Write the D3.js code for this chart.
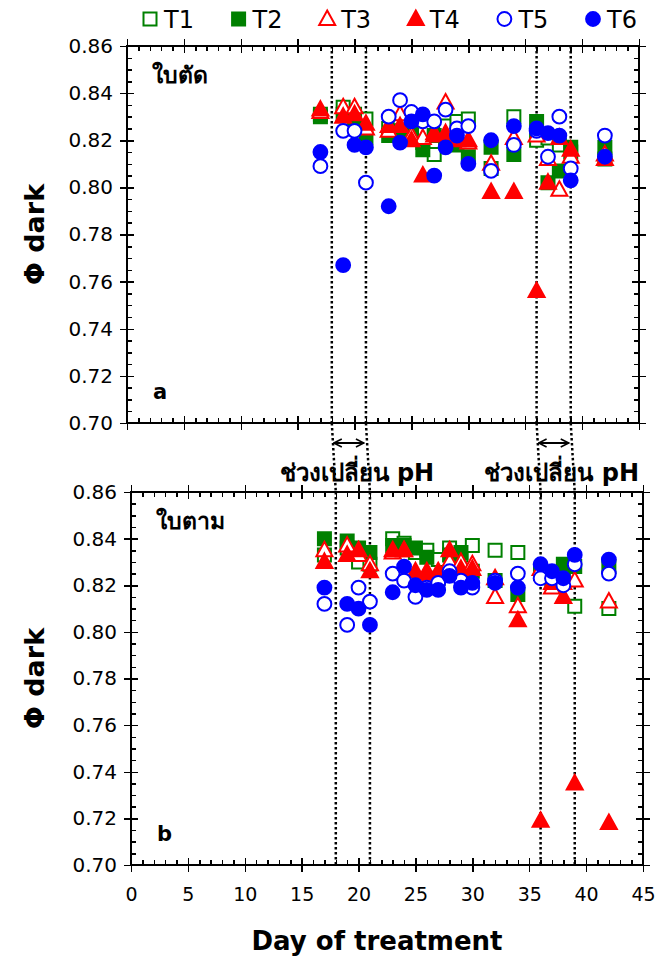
<!DOCTYPE html>
<html>
<head>
<meta charset="utf-8">
<script src="https://cdn.jsdelivr.net/npm/d3@7"></script>
<style>
body { margin: 0; background: #fff; }
text { font-family: "DejaVu Sans", sans-serif; fill: #000; }
.axis path { display: none; }
.axis line { stroke: #000; stroke-width: 1.5; shape-rendering: crispEdges; }
</style>
</head>
<body>
<script>
var days = [17, 19, 20, 21, 23, 24, 25, 26, 27, 28, 29, 30, 32, 34, 36, 37, 38, 39, 42];
var seriesNames = ["T1", "T2", "T3", "T4", "T5", "T6"];
var xTicks = [0, 5, 10, 15, 20, 25, 30, 35, 40, 45];
var yTicks = [0.70, 0.72, 0.74, 0.76, 0.78, 0.80, 0.82, 0.84, 0.86];
var phDays = [[18, 21], [36, 39]];

// panel a (ใบตัด)
var T1a = [0.831, 0.834, 0.831, 0.829, 0.825, 0.828, 0.823, 0.819, 0.814, 0.826, 0.828, 0.829, 0.808, 0.830, 0.820, 0.821, 0.818, 0.815, 0.812];
var T2a = [0.830, 0.831, 0.829, 0.821, 0.822, 0.824, 0.823, 0.816, 0.822, 0.820, 0.818, 0.813, 0.817, 0.814, 0.828, 0.802, 0.807, 0.817, 0.817];
var T3a = [0.832, 0.834, 0.834, 0.825, 0.824, 0.831, 0.822, 0.821, 0.823, 0.836, 0.821, 0.819, 0.810, 0.821, 0.822, 0.812, 0.799, 0.813, 0.814];
var T4a = [0.833, 0.830, 0.831, 0.827, 0.826, 0.826, 0.820, 0.805, 0.822, 0.823, 0.820, 0.820, 0.798, 0.798, 0.756, 0.802, 0.821, 0.816, 0.812];
var T5a = [0.809, 0.824, 0.824, 0.802, 0.830, 0.837, 0.832, 0.828, 0.828, 0.833, 0.825, 0.826, 0.807, 0.818, 0.824, 0.813, 0.830, 0.808, 0.822];
var T6a = [0.815, 0.767, 0.818, 0.817, 0.792, 0.819, 0.828, 0.831, 0.805, 0.817, 0.822, 0.810, 0.820, 0.826, 0.825, 0.823, 0.822, 0.803, 0.813];

// panel b (ใบตาม)
var T1b = [0.833, 0.836, 0.830, 0.829, 0.840, 0.838, 0.834, 0.835, 0.831, 0.836, 0.833, 0.837, 0.835, 0.834, 0.825, 0.823, 0.826, 0.811, 0.810];
var T2b = [0.840, 0.839, 0.836, 0.834, 0.837, 0.837, 0.836, 0.832, 0.823, 0.833, 0.834, 0.826, 0.822, 0.816, 0.826, 0.822, 0.829, 0.828, 0.828];
var T3b = [0.835, 0.837, 0.833, 0.829, 0.834, 0.835, 0.824, 0.826, 0.826, 0.830, 0.830, 0.829, 0.815, 0.811, 0.827, 0.819, 0.821, 0.822, 0.813];
var T4b = [0.830, 0.833, 0.835, 0.826, 0.835, 0.835, 0.826, 0.825, 0.825, 0.835, 0.827, 0.827, 0.823, 0.805, 0.719, 0.821, 0.815, 0.735, 0.718];
var T5b = [0.812, 0.803, 0.819, 0.813, 0.825, 0.822, 0.815, 0.819, 0.821, 0.826, 0.822, 0.819, 0.822, 0.825, 0.823, 0.823, 0.820, 0.829, 0.825];
var T6b = [0.819, 0.812, 0.810, 0.803, 0.817, 0.828, 0.820, 0.818, 0.818, 0.824, 0.819, 0.821, 0.821, 0.819, 0.829, 0.826, 0.823, 0.833, 0.831];

var styles = {
  T1: {shape: "square", fill: "#fff", stroke: "#008000"},
  T2: {shape: "square", fill: "#008000", stroke: "#008000"},
  T3: {shape: "triangle", fill: "#fff", stroke: "#ff0000"},
  T4: {shape: "triangle", fill: "#ff0000", stroke: "#ff0000"},
  T5: {shape: "circle", fill: "#fff", stroke: "#0000ff"},
  T6: {shape: "circle", fill: "#0000ff", stroke: "#0000ff"}
};

var svg = d3.select("body").append("svg")
    .attr("width", 659)
    .attr("height", 960);

function symbolPath(shape) {
  if (shape == "square") return "M-6.5,-6.5H6.5V6.5H-6.5Z";
  if (shape == "triangle") return "M0,-8.5L8,6L-8,6Z";
  return d3.symbol(d3.symbolCircle, 150)();
}

function drawPanel(opt) {
  var x = d3.scaleLinear().domain([0, 45]).range([opt.left, opt.left + 512]);
  var y = d3.scaleLinear().domain([0.70, 0.86]).range([opt.top + opt.h, opt.top]);
  var g = svg.append("g");
  var minorX = d3.range(0, 46, 1), minorY = d3.range(0.70, 0.8601, 0.005);

  // inward minor ticks
  g.append("g").attr("class", "axis").attr("transform", "translate(0," + y(0.70) + ")")
      .call(d3.axisBottom(x).tickValues(minorX).tickSize(-5).tickFormat(""));
  g.append("g").attr("class", "axis").attr("transform", "translate(0," + y(0.86) + ")")
      .call(d3.axisTop(x).tickValues(minorX).tickSize(-5).tickFormat(""));
  g.append("g").attr("class", "axis").attr("transform", "translate(" + x(0) + ",0)")
      .call(d3.axisLeft(y).tickValues(minorY).tickSize(-5).tickFormat(""));
  g.append("g").attr("class", "axis").attr("transform", "translate(" + x(45) + ",0)")
      .call(d3.axisRight(y).tickValues(minorY).tickSize(-5).tickFormat(""));

  // major ticks crossing the frame
  [7, -7].forEach(function(s) {
    g.append("g").attr("class", "axis").attr("transform", "translate(0," + y(0.70) + ")")
        .call(d3.axisBottom(x).tickValues(xTicks).tickSize(s).tickFormat(""));
    g.append("g").attr("class", "axis").attr("transform", "translate(0," + y(0.86) + ")")
        .call(d3.axisTop(x).tickValues(xTicks).tickSize(s).tickFormat(""));
    g.append("g").attr("class", "axis").attr("transform", "translate(" + x(45) + ",0)")
        .call(d3.axisRight(y).tickValues(yTicks).tickSize(s).tickFormat(""));
  });
  var yl = g.append("g").attr("class", "axis").attr("transform", "translate(" + x(0) + ",0)")
      .call(d3.axisLeft(y).tickValues(yTicks).tickSize(7).tickPadding(7).tickFormat(d3.format(".2f")));
  yl.selectAll("text").style("font-size", "20px");
  g.append("g").attr("class", "axis").attr("transform", "translate(" + x(0) + ",0)")
      .call(d3.axisLeft(y).tickValues(yTicks).tickSize(-7).tickFormat(""));

  if (opt.xLabels) {
    var xl = g.append("g").attr("class", "axis").attr("transform", "translate(0," + y(0.70) + ")")
        .call(d3.axisBottom(x).tickValues(xTicks).tickSize(7).tickPadding(16));
    xl.selectAll("text").style("font-size", "19px");
  }

  g.append("rect")
      .attr("x", x(0)).attr("y", y(0.86))
      .attr("width", x(45) - x(0)).attr("height", y(0.70) - y(0.86))
      .style("fill", "none").style("stroke", "#000").style("stroke-width", 2);

  // dotted pH lines
  phDays.forEach(function(p) {
    p.forEach(function(d) {
      g.append("line")
          .attr("x1", x(d)).attr("x2", x(d))
          .attr("y1", y(0.86)).attr("y2", y(0.70))
          .style("stroke", "#000").style("stroke-width", 2.5)
          .style("stroke-dasharray", "2.5,2.5");
    });
  });

  seriesNames.forEach(function(name) {
    var vals = opt.data[name];
    var st = styles[name];
    g.selectAll(".pt" + name)
        .data(days.map(function(d, i) { return {day: d, v: vals[i]}; }))
      .enter().append("path")
        .attr("d", symbolPath(st.shape))
        .attr("transform", function(d) { return "translate(" + x(d.day) + "," + y(d.v) + ")"; })
        .style("fill", st.fill)
        .style("stroke", st.stroke)
        .style("stroke-width", 2);
  });

  g.append("text").attr("x", x(0) + 25).attr("y", y(0.86) + 37)
      .style("font-size", "23px").style("font-weight", "bold")
      .text(opt.leaf);
  g.append("text").attr("x", x(0) + 26).attr("y", y(0.70) - 24)
      .style("font-size", "21px").style("font-weight", "bold")
      .text(opt.letter);

  g.append("text")
      .attr("transform", "translate(44," + (opt.top + opt.h / 2) + ") rotate(-90)")
      .style("text-anchor", "middle")
      .style("font-size", "27px").style("font-weight", "bold")
      .text("Φ dark");

  return x;
}

var xa = drawPanel({left: 127, top: 46, h: 377, leaf: "ใบตัด", letter: "a",
  data: {T1: T1a, T2: T2a, T3: T3a, T4: T4a, T5: T5a, T6: T6a}});
var xb = drawPanel({left: 131, top: 492, h: 373, leaf: "ใบตาม", letter: "b", xLabels: true,
  data: {T1: T1b, T2: T2b, T3: T3b, T4: T4b, T5: T5b, T6: T6b}});

// dotted lines through the gap, arrows and notes
svg.append("defs").append("marker")
    .attr("id", "head").attr("viewBox", "0 0 10 10")
    .attr("refX", 9).attr("refY", 5)
    .attr("markerWidth", 5).attr("markerHeight", 5)
    .attr("orient", "auto-start-reverse")
  .append("path").attr("d", "M1,1L9,5L1,9")
    .style("fill", "none").style("stroke", "#000").style("stroke-width", 1.6);

phDays.forEach(function(p) {
  p.forEach(function(d) {
    svg.append("line")
        .attr("x1", xa(d)).attr("x2", xb(d)).attr("y1", 423).attr("y2", 492)
        .style("stroke", "#000").style("stroke-width", 2.5)
        .style("stroke-dasharray", "2.5,2.5");
  });
  svg.append("line")
      .attr("x1", xa(p[0]) + 2).attr("x2", xa(p[1]) - 2)
      .attr("y1", 443).attr("y2", 443)
      .style("stroke", "#000").style("stroke-width", 2)
      .attr("marker-start", "url(#head)").attr("marker-end", "url(#head)");
  svg.append("text")
      .attr("x", (xa(p[0]) + xa(p[1])) / 2 + 8).attr("y", 481)
      .style("text-anchor", "middle")
      .style("font-size", "24px").style("font-weight", "bold")
      .text("ช่วงเปลี่ยน pH");
});

// legend
var legend = svg.selectAll(".legend")
    .data(seriesNames)
  .enter().append("g")
    .attr("class", "legend")
    .attr("transform", function(d, i) { return "translate(" + (150 + i * 88.6) + ",19)"; });

legend.append("path")
    .attr("d", function(d) { return symbolPath(styles[d].shape); })
    .style("fill", function(d) { return styles[d].fill; })
    .style("stroke", function(d) { return styles[d].stroke; })
    .style("stroke-width", 2);

legend.append("text")
    .attr("x", 14).attr("dy", "0.36em")
    .style("font-size", "24px")
    .text(function(d) { return d; });

svg.append("text")
    .attr("x", 377).attr("y", 950)
    .style("text-anchor", "middle")
    .style("font-size", "26px").style("font-weight", "bold")
    .text("Day of treatment");
</script>
</body>
</html>
